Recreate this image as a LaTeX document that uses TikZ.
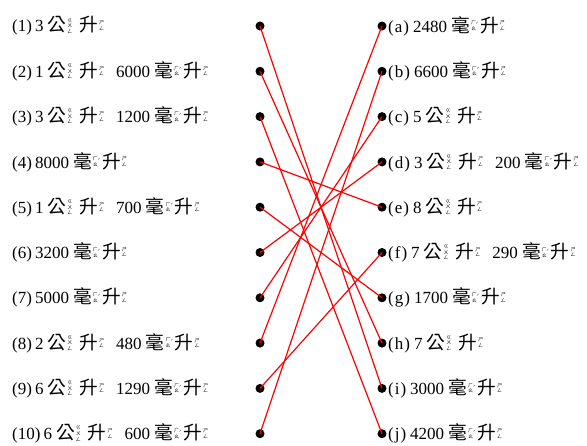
\documentclass[tikz,border=0pt]{standalone}
\usepackage{fontspec}
\setmainfont{Liberation Serif}
\newfontfamily\cjk{Noto Sans CJK TC}[Scale=1.1]
\newfontfamily\cjks{Noto Sans CJK TC}
\newcommand\bpm[2]{\raisebox{#1}{\fontsize{5pt}{5.4pt}\selectfont\cjks\renewcommand\arraystretch{1}\begin{tabular}{@{}c@{}}#2\end{tabular}}}
\newcommand\Gong{{\cjk 公}\kern1pt\bpm{4.3pt}{ㄍ\\ㄨ\\ㄥ}}
\newcommand\Sheng{{\cjk 升}\kern1pt\bpm{4.3pt}{ㄕ\\ㄥ}}
\newcommand\Hao{{\cjk 毫}\kern1pt\bpm{4.3pt}{ㄏ\\ㄠ}\kern-0.3pt\raisebox{5.5pt}{\fontsize{5pt}{5pt}\selectfont\cjks ˊ}\kern1.5pt}
\newcommand\gap{\hspace{7pt}}
\newcommand\bigap{\hspace{12pt}}
\begin{document}
\begin{tikzpicture}[x=1pt,y=-1pt,
  dot/.style={circle,fill=black,inner sep=0pt,minimum size=9pt},
  lab/.style={anchor=west,inner sep=0pt,font=\fontsize{17pt}{19pt}\selectfont},
  link/.style={red,line width=1.2pt}]
\useasboundingbox (0,0) rectangle (587,445);
% left dots
\node[dot] (L1) at (260,26) {};
\node[dot] (L2) at (260,71.3) {};
\node[dot] (L3) at (260,116.6) {};
\node[dot] (L4) at (260,161.9) {};
\node[dot] (L5) at (260,207.2) {};
\node[dot] (L6) at (260,252.5) {};
\node[dot] (L7) at (260,297.8) {};
\node[dot] (L8) at (260,343.1) {};
\node[dot] (L9) at (260,388.4) {};
\node[dot] (L10) at (260,433.7) {};
% right dots
\node[dot] (Ra) at (382,26) {};
\node[dot] (Rb) at (382,71.3) {};
\node[dot] (Rc) at (382,116.6) {};
\node[dot] (Rd) at (382,161.9) {};
\node[dot] (Re) at (382,207.2) {};
\node[dot] (Rf) at (382,252.5) {};
\node[dot] (Rg) at (382,297.8) {};
\node[dot] (Rh) at (382,343.1) {};
\node[dot] (Ri) at (382,388.4) {};
\node[dot] (Rj) at (382,433.7) {};
% left labels
\node[lab] (T1) at (12,26) {(1)\kern3pt 3 \Gong\gap\Sheng};
\node[lab] (T2) at (12,71.3) {(2)\kern3pt 1 \Gong\gap\Sheng\bigap 6000 \Hao\Sheng};
\node[lab] (T3) at (12,116.6) {(3)\kern3pt 3 \Gong\gap\Sheng\bigap 1200 \Hao\Sheng};
\node[lab] (T4) at (12,161.9) {(4)\kern3pt 8000 \Hao\Sheng};
\node[lab] (T5) at (12,207.2) {(5)\kern3pt 1 \Gong\gap\Sheng\bigap 700 \Hao\Sheng};
\node[lab] (T6) at (12,252.5) {(6)\kern3pt 3200 \Hao\Sheng};
\node[lab] (T7) at (12,297.8) {(7)\kern3pt 5000 \Hao\Sheng};
\node[lab] (T8) at (12,343.1) {(8)\kern3pt 2 \Gong\gap\Sheng\bigap 480 \Hao\Sheng};
\node[lab] (T9) at (12,388.4) {(9)\kern3pt 6 \Gong\gap\Sheng\bigap 1290 \Hao\Sheng};
\node[lab] (T10) at (12,433.7) {(10)\kern3pt 6 \Gong\gap\Sheng\bigap 600 \Hao\Sheng};
% right labels
\node[lab] (Sa) at (388,26) {(\kern1pt a\kern1pt)\kern4pt 2480 \Hao\Sheng};
\node[lab] (Sb) at (388,71.3) {(\kern1pt b\kern1pt)\kern4pt 6600 \Hao\Sheng};
\node[lab] (Sc) at (388,116.6) {(\kern1pt c\kern1pt)\kern4pt 5 \Gong\gap\Sheng};
\node[lab] (Sd) at (388,161.9) {(\kern1pt d\kern1pt)\kern4pt 3 \Gong\gap\Sheng\bigap 200 \Hao\Sheng};
\node[lab] (Se) at (388,207.2) {(\kern1pt e\kern1pt)\kern4pt 8 \Gong\gap\Sheng};
\node[lab] (Sf) at (388,252.5) {(\kern1pt f\kern1pt)\kern4pt 7 \Gong\gap\Sheng\bigap 290 \Hao\Sheng};
\node[lab] (Sg) at (388,297.8) {(\kern1pt g\kern1pt)\kern4pt 1700 \Hao\Sheng};
\node[lab] (Sh) at (388,343.1) {(\kern1pt h\kern1pt)\kern4pt 7 \Gong\gap\Sheng};
\node[lab] (Si) at (388,388.4) {(\kern1pt i\kern1pt)\kern4pt 3000 \Hao\Sheng};
\node[lab] (Sj) at (388,433.7) {(\kern1pt j\kern1pt)\kern4pt 4200 \Hao\Sheng};
% links
\draw[link] (L1.center) -- (Ri.center);
\draw[link] (L2.center) -- (Rh.center);
\draw[link] (L3.center) -- (Rj.center);
\draw[link] (L4.center) -- (Re.center);
\draw[link] (L5.center) -- (Rg.center);
\draw[link] (L6.center) -- (Rd.center);
\draw[link] (L7.center) -- (Rc.center);
\draw[link] (L8.center) -- (Ra.center);
\draw[link] (L9.center) -- (Rf.center);
\draw[link] (L10.center) -- (Rb.center);
\end{tikzpicture}
\end{document}
